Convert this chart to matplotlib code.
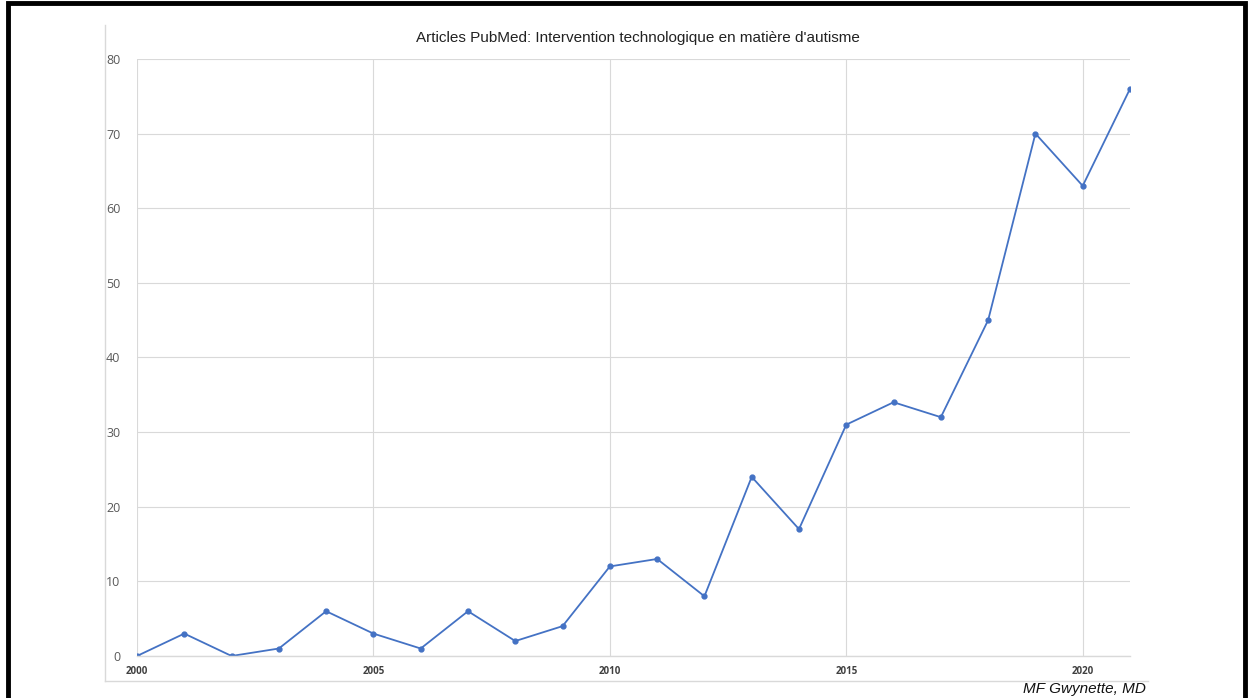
import matplotlib
matplotlib.use('Agg')
import matplotlib.pyplot as plt
from matplotlib.lines import Line2D
from matplotlib.patches import Rectangle

# data
years = list(range(2000, 2022))
articles = [0, 3, 0, 1, 6, 3, 1, 6, 2, 4, 12, 13, 8, 24, 17, 31, 34, 32, 45, 70, 63, 76]
xticks = [2000, 2005, 2010, 2015, 2020]
yticks = [0, 10, 20, 30, 40, 50, 60, 70, 80]
title = "Articles PubMed: Intervention technologique en matière d'autisme"
credit = "MF Gwynette, MD"

blue = '#4472C4'
grid = '#d9d9d9'

fig = plt.figure(figsize=(12.5, 6.98), dpi=100)
ax = fig.add_axes([0.1096, 0.0602, 0.7944, 0.8553])

ax.plot(years, articles, color=blue, linewidth=1.3, marker='o', markersize=3.5)

ax.set_xlim(2000, 2021)
ax.set_ylim(0, 80)
ax.set_xticks(xticks)
ax.set_yticks(yticks)
ax.grid(True, color=grid, linewidth=0.8)
ax.set_axisbelow(True)
for s in ['top', 'right', 'left']:
    ax.spines[s].set_visible(False)
ax.spines['bottom'].set_color(grid)
ax.spines['bottom'].set_linewidth(1.0)
ax.tick_params(length=0)
ax.tick_params(axis='y', labelsize=9, labelcolor='#595959', pad=12)
ax.tick_params(axis='x', labelsize=7, labelcolor='#404040', pad=7)
for lab in ax.get_yticklabels():
    lab.set_fontfamily('Open Sans')
for lab in ax.get_xticklabels():
    lab.set_fontfamily('Open Sans')
    lab.set_fontweight('bold')

fig.text(0.51, 0.945, title, ha='center', va='center', fontsize=11,
         family='Liberation Sans', color='#222222')
fig.text(0.917, 0.013, credit, ha='right', va='center', fontsize=11,
         family='Liberation Sans', style='italic', color='#111111')

# chart area frame (left and bottom only)
fig.add_artist(Line2D([0.084, 0.084], [0.024, 0.964], color='#d9d9d9', linewidth=1.0,
                      transform=fig.transFigure))
fig.add_artist(Line2D([0.084, 0.918], [0.024, 0.024], color='#d9d9d9', linewidth=1.0,
                      transform=fig.transFigure))

# black slide border
fig.add_artist(Rectangle((0.0065, -0.05), 0.9895, 1.0457, fill=False, edgecolor='black',
                         linewidth=3.5, transform=fig.transFigure))

fig.savefig('out.png', dpi=100)
